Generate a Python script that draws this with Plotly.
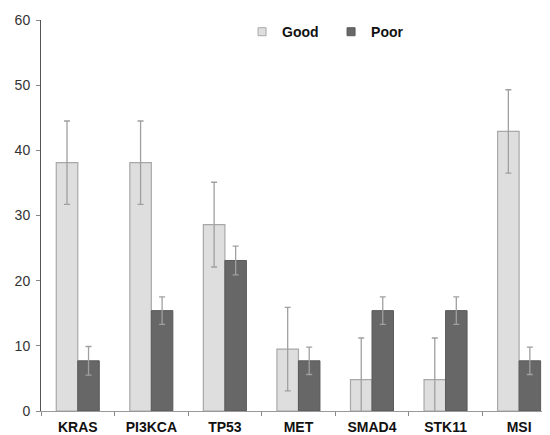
import plotly.graph_objects as go

categories = ["KRAS", "PI3KCA", "TP53", "MET", "SMAD4", "STK11", "MSI"]
good = [38.1, 38.1, 28.6, 9.5, 4.8, 4.8, 42.9]
good_err = [6.4, 6.4, 6.5, 6.4, 6.4, 6.4, 6.4]
poor = [7.7, 15.4, 23.1, 7.7, 15.4, 15.4, 7.7]
poor_err = [2.2, 2.1, 2.2, 2.1, 2.1, 2.1, 2.1]

good_fill, good_line = "#dedede", "#a8a8a8"
poor_fill, poor_line = "#676767", "#5a5a5a"

fig = go.Figure()
fig.add_trace(go.Bar(
    x=categories, y=good, name="Good", showlegend=False,
    marker=dict(color=good_fill, line=dict(color=good_line, width=1.2)),
    error_y=dict(type="data", array=good_err, color="#a0a0a0", thickness=1.3, width=3),
))
fig.add_trace(go.Bar(
    x=categories, y=poor, name="Poor", showlegend=False,
    marker=dict(color=poor_fill, line=dict(color=poor_line, width=1)),
    error_y=dict(type="data", array=poor_err, color="#a0a0a0", thickness=1.3, width=3),
))
# legend entries with small square markers
fig.add_trace(go.Scatter(
    x=[categories[0]], y=[None], mode="markers", name="Good",
    marker=dict(symbol="square", size=8, color=good_fill, line=dict(color=good_line, width=1)),
))
fig.add_trace(go.Scatter(
    x=[categories[0]], y=[None], mode="markers", name="Poor",
    marker=dict(symbol="square", size=8, color=poor_fill, line=dict(color=poor_line, width=1)),
))

fig.update_layout(
    width=550, height=435,
    margin=dict(l=33, r=8, t=10, b=32),
    paper_bgcolor="white", plot_bgcolor="white",
    barmode="group", bargap=0.415, bargroupgap=0,
    font=dict(family="Liberation Sans, Arial, sans-serif", color="#111"),
    legend=dict(
        orientation="h", x=0.395, y=0.969, xanchor="left", yanchor="middle",
        font=dict(size=14, weight="bold", color="#111"),
        itemwidth=30, entrywidth=44, bgcolor="rgba(0,0,0,0)",
    ),
    xaxis=dict(
        range=[-0.5, 6.42], showline=True, linecolor="#999", linewidth=1,
        ticks="outside", tickson="boundaries", ticklen=4, tickcolor="#888",
        tickfont=dict(size=14, weight="bold", color="#111"),
        ticklabelstandoff=3,
        showgrid=False, automargin=False, fixedrange=True,
    ),
    yaxis=dict(
        range=[0, 60], dtick=10, showline=True, linecolor="#555", linewidth=1,
        ticks="outside", ticklen=4, tickcolor="#888",
        tickfont=dict(size=14, color="#333"),
        ticklabelstandoff=3,
        showgrid=False, zeroline=False, automargin=False, fixedrange=True,
    ),
)

fig.write_html("out.html")
